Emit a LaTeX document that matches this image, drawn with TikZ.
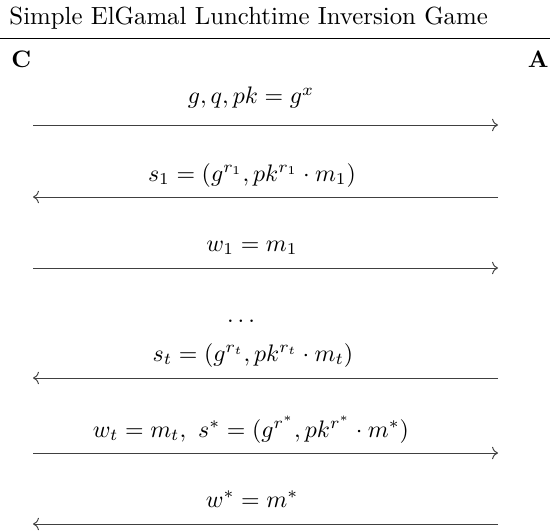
\documentclass[tikz,border=0pt]{standalone}
\usepackage{amsmath,amssymb}
\usetikzlibrary{arrows.meta, positioning}

\tikzset{
  party/.style={font=\bfseries, inner sep=0pt},
  msg/.style={anchor=base, inner sep=0pt},
  sendmsg/.style={->, black!75},
}

\begin{document}
\begin{tikzpicture}[x=0.419pt, y=-0.419pt]
  \useasboundingbox (0,0) rectangle (550,531);

  % 标题与分隔线
  \node[anchor=base west, inner sep=0pt, scale=1.04] (title) at (9,25) {Simple ElGamal Lunchtime Inversion Game};
  \coordinate (ruleL) at (0,38);
  \coordinate (ruleR) at (550,38);
  \draw (ruleL) -- (ruleR);

  % 双方
  \node[party, anchor=base west] (chal) at (11,68) {C};
  \node[party, anchor=base east] (adv) at (549,68) {A};

  % 消息端点
  \foreach \i/\y in {1/125, 2/197, 3/268, 4/378, 5/453, 6/524} {
    \coordinate (c\i) at (33,\y);
    \coordinate (a\i) at (498,\y);
  }

  % 公钥
  \node[msg] (m1) at (251,104) {$g, q, pk = g^x$};
  \draw[sendmsg] (c1) -- (a1);

  % 第一轮
  \node[msg] (m2) at (252,181) {$s_1 = (g^{r_1}, pk^{r_1} \cdot m_1)$};
  \draw[sendmsg] (a2) -- (c2);
  \node[msg] (m3) at (252,251) {$w_1 = m_1$};
  \draw[sendmsg] (c3) -- (a3);

  % 省略
  \node[msg] (dots) at (243,322) {$\dots$};

  % 第 t 轮
  \node[msg] (m4) at (253,361) {$s_t = (g^{r_t}, pk^{r_t} \cdot m_t)$};
  \draw[sendmsg] (a4) -- (c4);
  \node[msg] (m5) at (251,437) {$w_t = m_t,\ s^* = (g^{r^*}, pk^{r^*} \cdot m^*)$};
  \draw[sendmsg] (c5) -- (a5);

  % 挑战
  \node[msg] (m6) at (252,507) {$w^* = m^*$};
  \draw[sendmsg] (a6) -- (c6);
\end{tikzpicture}
\end{document}
